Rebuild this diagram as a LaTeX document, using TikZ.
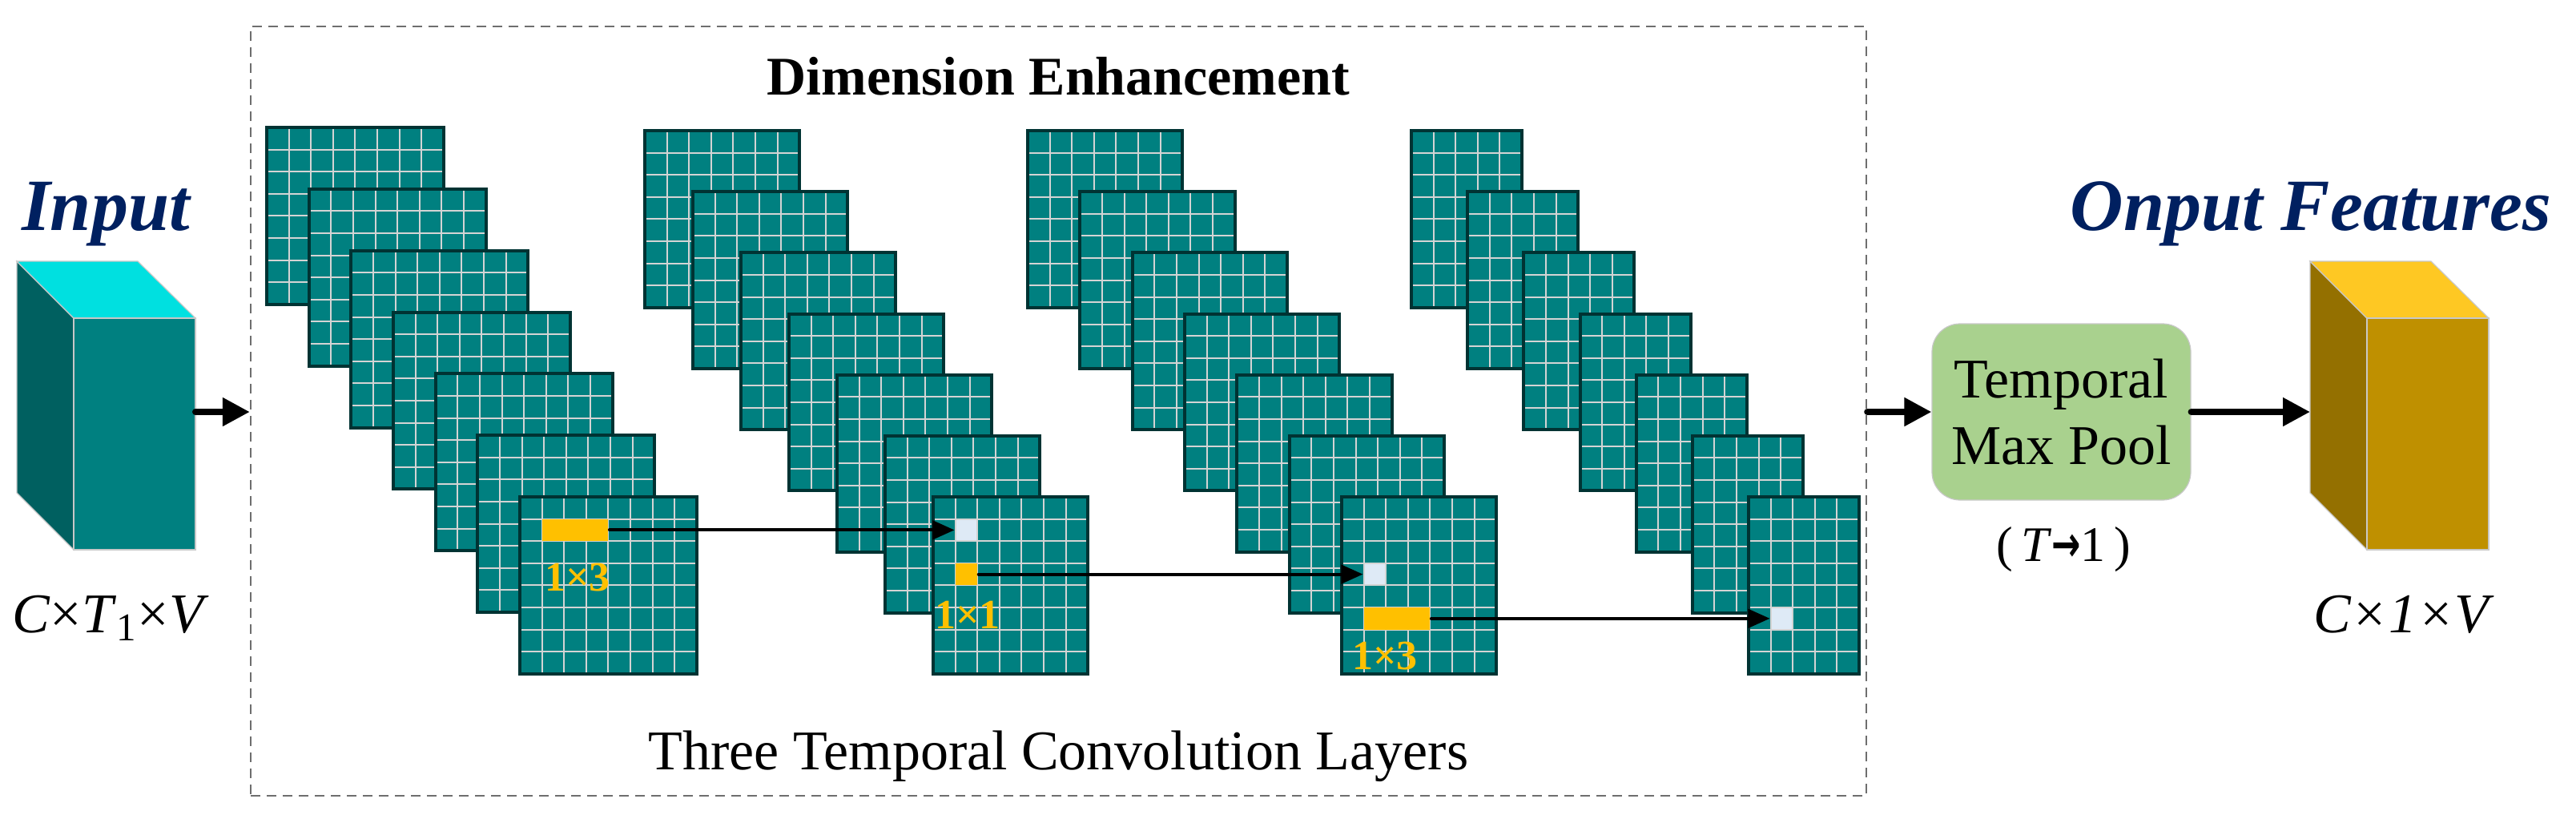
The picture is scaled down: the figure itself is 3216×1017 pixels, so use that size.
\documentclass[tikz,border=0pt]{standalone}
\usepackage{fontspec}
\setmainfont{Liberation Serif}
\newfontfamily\arrowfont{DejaVu Sans}
\usetikzlibrary{arrows.meta}

\definecolor{mapteal}{RGB}{0,128,128}
\definecolor{mapdark}{RGB}{0,51,51}
\definecolor{mapline}{RGB}{212,212,212}
\definecolor{kernyellow}{RGB}{255,192,0}
\definecolor{cellwhite}{RGB}{222,234,246}
\definecolor{titlenavy}{RGB}{0,32,96}
\definecolor{cubetop}{RGB}{0,224,224}
\definecolor{cubefront}{RGB}{0,128,128}
\definecolor{cubeside}{RGB}{0,96,96}
\definecolor{goldtop}{RGB}{254,200,35}
\definecolor{goldfront}{RGB}{191,144,0}
\definecolor{goldside}{RGB}{148,112,0}
\definecolor{poolgreen}{RGB}{169,209,142}
\definecolor{cubeedge}{RGB}{200,200,200}
\definecolor{boxdash}{RGB}{110,110,110}

\tikzset{every picture/.style={line width=0.75pt}}
\tikzset{
  mapfill/.style={fill=mapteal},
  mapgrid/.style={draw=mapline,line width=0.5pt},
  mapedge/.style={draw=mapdark,line width=1pt},
  pics/fmap/.style={code={
    \begin{scope}[yscale=-1]
    \fill[mapfill] (0,0) rectangle (27.6*#1,220.8);
    \foreach \gx in {1,...,7}{\ifnum\gx<#1\relax\draw[mapgrid] (27.6*\gx,0) -- (27.6*\gx,220.8);\fi}
    \foreach \gy in {1,...,7}{\draw[mapgrid] (0,27.6*\gy) -- (27.6*#1,27.6*\gy);}
    \draw[mapedge] (0,0) rectangle (27.6*#1,220.8);
    \end{scope}
  }},
  kerncell/.style={fill=kernyellow,inner sep=0pt,minimum height=6.9pt},
  outcell/.style={fill=cellwhite,draw=mapline,line width=0.5pt,inner sep=0pt,minimum width=6.9pt,minimum height=6.9pt},
  thinarrow/.style={line width=1pt,line cap=round,-{Triangle[length=6.8pt,width=5.8pt]}},
  bigarrow/.style={line width=2pt,line cap=round,-{Triangle[length=8.5pt,width=8.5pt]}},
  enhbox/.style={draw=boxdash,line width=0.6pt,dash pattern=on 3pt off 2pt,minimum width=504.25pt,minimum height=240pt,inner sep=0pt},
  poolbox/.style={fill=poolgreen,draw=cubeedge,line width=0.3pt,rounded corners=8.75pt,minimum width=80.75pt,minimum height=55pt,inner sep=0pt,align=center,font=\fontsize{17.5}{20.75}\selectfont},
  headlbl/.style={font=\fontsize{23}{27}\selectfont\bfseries\itshape,text=titlenavy,anchor=base,inner sep=0pt},
  titlelbl/.style={font=\fontsize{17}{20}\selectfont\bfseries,anchor=base,inner sep=0pt},
  plainlbl/.style={font=\fontsize{17.5}{21}\selectfont,anchor=base,inner sep=0pt},
  notelbl/.style={font=\fontsize{15.5}{18}\selectfont,anchor=base,inner sep=0pt},
  klbl/.style={font=\fontsize{13}{15}\selectfont\bfseries,text=kernyellow,anchor=base,inner sep=0pt}
}

\begin{document}
\begin{tikzpicture}[x=0.25pt,y=0.25pt,yscale=-1,xscale=1]
\useasboundingbox (0,0) rectangle (3216,1017);

%Shape: Dashed Rectangle
\node[enhbox] (enh) at (1321.5,513) {};

%Shape: Input Cube
\filldraw[fill=cubeside,draw=cubeedge,line width=0.3pt] (21,326) -- (92,397) -- (92,686) -- (21,615) -- cycle;
\filldraw[fill=cubetop,draw=cubeedge,line width=0.3pt] (21,326) -- (172,326) -- (244,397) -- (92,397) -- cycle;
\filldraw[fill=cubefront,draw=cubeedge,line width=0.3pt] (92,397) rectangle (244,686);
\coordinate (inR) at (244,514);

%Shape: Output Cube
\filldraw[fill=goldside,draw=cubeedge,line width=0.3pt] (2884,326) -- (2955,397) -- (2955,686) -- (2884,615) -- cycle;
\filldraw[fill=goldtop,draw=cubeedge,line width=0.3pt] (2884,326) -- (3035,326) -- (3107,397) -- (2955,397) -- cycle;
\filldraw[fill=goldfront,draw=cubeedge,line width=0.3pt] (2955,397) rectangle (3107,686);
\coordinate (outL) at (2884,514);

%Feature Maps: stack 1
\pic at (333,159) {fmap=8};
\pic at (385.7,235.8) {fmap=8};
\pic at (438.3,312.7) {fmap=8};
\pic at (491,389.5) {fmap=8};
\pic at (543.7,466.3) {fmap=8};
\pic at (596.3,543.2) {fmap=8};
\pic at (649,620) {fmap=8};
%Feature Maps: stack 2
\pic at (805,163) {fmap=7};
\pic at (865,239.2) {fmap=7};
\pic at (925,315.3) {fmap=7};
\pic at (985,391.5) {fmap=7};
\pic at (1045,467.7) {fmap=7};
\pic at (1105,543.8) {fmap=7};
\pic at (1165,620) {fmap=7};
%Feature Maps: stack 3
\pic at (1283,163) {fmap=7};
\pic at (1348.3,239.2) {fmap=7};
\pic at (1413.7,315.3) {fmap=7};
\pic at (1479,391.5) {fmap=7};
\pic at (1544.3,467.7) {fmap=7};
\pic at (1609.7,543.8) {fmap=7};
\pic at (1675,620) {fmap=7};
%Feature Maps: stack 4
\pic at (1762,163) {fmap=5};
\pic at (1832.2,239.2) {fmap=5};
\pic at (1902.3,315.3) {fmap=5};
\pic at (1972.5,391.5) {fmap=5};
\pic at (2042.7,467.7) {fmap=5};
\pic at (2112.8,543.8) {fmap=5};
\pic at (2183,620) {fmap=5};

%Kernel and Output Cells
\node[kerncell,minimum width=20.7pt] (k1) at (718,661.4) {};
\node[outcell] (o1) at (1206.4,661.4) {};
\node[kerncell,minimum width=6.9pt] (k2) at (1206.4,716.6) {};
\node[outcell] (o2) at (1716.4,716.6) {};
\node[kerncell,minimum width=20.7pt] (k3) at (1744,771.8) {};
\node[outcell] (o3) at (2224.4,771.8) {};

%Shape: Temporal Max Pool
\node[poolbox] (pool) at (2573.5,514) {Temporal\\Max Pool};

%Straight Lines
\draw[thinarrow] (k1.east) -- (o1.west);
\draw[thinarrow] (k2.east) -- (o2.west);
\draw[thinarrow] (k3.east) -- (o3.west);
\draw[bigarrow] (inR) -- (inR -| enh.west);
\draw[bigarrow] (enh.east |- pool.west) -- (pool.west);
\draw[bigarrow] (pool.east) -- (outL);

% Text Node
\node[headlbl] (inlbl) at (132,287) {Input};
% Text Node
\node[headlbl] (outlbl) at (2885,287) {Onput Features};
% Text Node
\node[plainlbl] (inshape) at (138,789) {\textit{C}×\textit{T}\textsubscript{1}×\textit{V}};
% Text Node
\node[plainlbl] (outshape) at (3001,789) {\textit{C×1×V}};
% Text Node
\node[titlelbl] (dimlbl) at (1321.5,118) {Dimension Enhancement};
% Text Node
\node[plainlbl] (convlbl) at (1321.5,960) {Three Temporal Convolution Layers};
% Text Node
\node[notelbl] (poolnote) at (2576,700) {(\,\textit{T}\scalebox{0.7}[1]{\arrowfont\bfseries →}1\,)};
% Text Node
\node[klbl] (k1lbl) at (721,737) {1×3};
% Text Node
\node[klbl] (k2lbl) at (1208,784) {1×1};
% Text Node
\node[klbl] (k3lbl) at (1729,835) {1×3};

\end{tikzpicture}
\end{document}
